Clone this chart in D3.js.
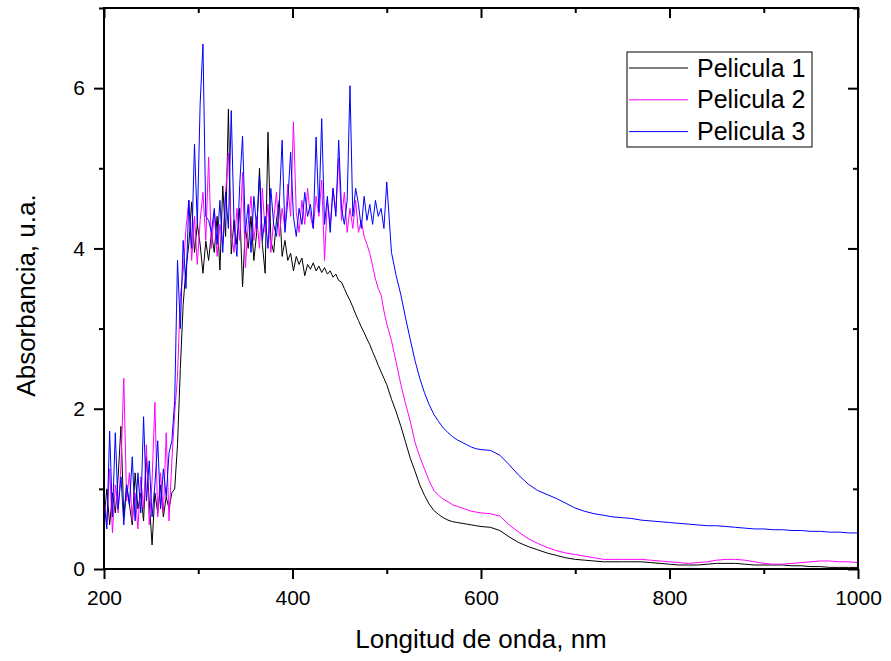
<!DOCTYPE html>
<html>
<head>
<meta charset="utf-8">
<script src="https://cdn.jsdelivr.net/npm/d3@7"></script>
<style>
  html, body { margin: 0; padding: 0; background: #fff; }
  svg { display: block; font-family: Arial, "Liberation Sans", sans-serif; }
</style>
</head>
<body>
<svg id="chart" width="891" height="661"></svg>
<script>
// Wavelength grid (nm): 3 nm steps up to 500, 5 nm to 600, 10 nm to 1000
const wavelengths = [
  200,203,206,209,212,215,218,221,224,227,
  230,233,236,239,242,245,248,251,254,257,
  260,263,266,269,272,275,278,281,284,287,
  290,293,296,299,302,305,308,311,314,317,
  320,323,326,329,332,335,338,341,344,347,
  350,353,356,359,362,365,368,371,374,377,
  380,383,386,389,392,395,398,401,404,407,
  410,413,416,419,422,425,428,431,434,437,
  440,443,446,449,452,455,458,461,464,467,
  470,473,476,479,482,485,488,491,494,497,
  500,
  505,510,515,520,525,530,535,540,545,550,
  555,560,565,570,575,580,585,590,595,600,
  610,620,630,640,650,660,670,680,690,700,
  710,720,730,740,750,760,770,780,790,800,
  810,820,830,840,850,860,870,880,890,900,
  910,920,930,940,950,960,970,980,990,1000
];

// Absorbance, Pelicula 1
const pelicula1 = [
  0.60,1.00,0.55,0.95,0.70,1.15,1.78,0.65,1.05,0.80,
  0.55,1.20,0.75,0.95,0.60,1.40,0.85,0.30,0.95,0.70,
  1.05,0.65,0.90,0.75,0.95,1.00,1.55,2.50,3.30,3.75,
  4.05,4.58,3.95,4.30,4.05,3.69,4.09,3.85,4.20,3.95,
  4.40,3.73,4.78,4.15,5.74,3.93,4.35,4.05,4.50,3.52,
  4.26,4.00,4.40,3.85,4.20,5.00,4.05,3.69,5.45,4.10,
  3.95,4.35,4.60,3.90,4.10,3.85,3.94,3.72,3.90,3.80,
  3.88,3.66,3.80,3.74,3.82,3.72,3.78,3.70,3.76,3.68,
  3.72,3.64,3.68,3.60,3.58,3.50,3.42,3.35,3.27,3.18,
  3.10,3.02,2.95,2.87,2.80,2.71,2.63,2.54,2.46,2.38,
  2.30,
  2.12,1.96,1.78,1.58,1.38,1.22,1.05,0.92,0.81,0.73,
  0.68,0.64,0.61,0.59,0.58,0.57,0.56,0.55,0.54,0.53,
  0.52,0.48,0.40,0.33,0.28,0.24,0.20,0.17,0.14,0.12,
  0.11,0.10,0.09,0.09,0.09,0.09,0.09,0.08,0.07,0.06,
  0.05,0.05,0.05,0.06,0.07,0.07,0.07,0.06,0.05,0.05,
  0.05,0.05,0.04,0.04,0.03,0.03,0.02,0.02,0.02,0.02
];

// Absorbance, Pelicula 2
const pelicula2 = [
  0.90,0.55,1.25,0.45,1.05,0.70,1.30,2.38,0.85,1.20,
  0.60,0.95,0.50,1.15,0.75,1.55,0.55,1.10,2.08,0.65,
  1.20,0.70,1.70,0.60,1.35,1.95,2.40,3.40,3.70,4.25,
  4.60,3.85,4.40,3.80,4.35,4.70,4.10,5.14,4.00,4.45,
  3.90,4.30,4.05,4.70,5.19,4.20,3.95,4.50,4.10,4.95,
  3.76,4.30,4.65,4.10,4.40,4.00,4.75,4.20,4.55,3.95,
  4.35,4.70,4.15,4.50,4.25,4.80,4.40,5.58,4.45,4.20,
  4.60,4.30,4.75,4.40,4.25,4.65,4.40,4.85,3.85,4.60,
  4.30,4.75,4.45,5.12,4.35,4.70,4.20,4.50,4.25,4.60,
  4.20,4.35,4.15,4.05,3.94,3.78,3.62,3.50,3.42,3.22,
  3.06,
  2.85,2.58,2.30,2.06,1.84,1.58,1.40,1.25,1.10,0.98,
  0.92,0.87,0.84,0.80,0.78,0.76,0.74,0.72,0.71,0.70,
  0.69,0.66,0.55,0.46,0.38,0.32,0.27,0.23,0.20,0.18,
  0.16,0.14,0.12,0.12,0.12,0.12,0.12,0.11,0.10,0.09,
  0.08,0.07,0.08,0.09,0.11,0.12,0.12,0.11,0.09,0.07,
  0.06,0.06,0.07,0.08,0.09,0.10,0.10,0.09,0.09,0.08
];

// Absorbance, Pelicula 3
const pelicula3 = [
  0.85,0.50,1.72,0.65,1.70,0.75,1.15,0.55,1.05,0.80,
  1.40,0.60,1.20,0.70,1.90,0.85,1.35,0.65,1.05,1.60,
  0.75,1.25,0.90,1.45,1.60,2.10,3.85,3.00,4.10,3.50,
  4.60,4.00,5.30,4.30,5.80,6.55,4.40,4.35,4.20,4.50,
  4.05,4.60,3.95,4.70,4.25,5.72,4.30,3.90,4.80,5.40,
  4.20,4.55,3.95,4.65,4.25,4.90,4.10,4.40,4.00,4.75,
  4.30,4.15,4.55,5.35,4.20,4.60,5.20,4.40,4.15,4.50,
  4.30,4.70,4.40,4.55,4.25,5.39,4.45,5.62,4.30,4.65,
  4.20,4.75,4.40,5.35,4.50,4.30,4.60,6.03,4.40,4.75,
  4.55,4.25,4.65,4.35,4.55,4.30,4.60,4.40,4.50,4.25,
  4.83,
  3.95,3.66,3.42,3.13,2.86,2.60,2.38,2.20,2.05,1.93,
  1.84,1.76,1.70,1.65,1.61,1.58,1.55,1.52,1.50,1.49,
  1.48,1.42,1.30,1.17,1.06,0.98,0.93,0.88,0.82,0.76,
  0.72,0.69,0.67,0.65,0.64,0.63,0.61,0.60,0.59,0.58,
  0.57,0.56,0.55,0.54,0.54,0.53,0.52,0.51,0.50,0.50,
  0.49,0.49,0.48,0.48,0.47,0.47,0.46,0.46,0.45,0.45
];

const seriesNames = ["Pelicula 1", "Pelicula 2", "Pelicula 3"];
const seriesColors = ["#000000", "#ff00ff", "#0000ff"];
const xMajorTicks = [200, 400, 600, 800, 1000];
const xMinorTicks = [300, 500, 700, 900];
const yMajorTicks = [0, 2, 4, 6];
const yMinorTicks = [1, 3, 5, 7];
const xTitle = "Longitud de onda, nm";
const yTitle = "Absorbancia, u.a.";

const series = [pelicula1, pelicula2, pelicula3].map((vals, i) => ({
  name: seriesNames[i],
  color: seriesColors[i],
  points: wavelengths.map((w, j) => [w, vals[j]])
}));

const svg = d3.select("#chart");
const margin = { left: 104, right: 891 - 858, top: 8, bottom: 661 - 569 };
const W = 891 - margin.left - margin.right;
const H = 661 - margin.top - margin.bottom;

const x = d3.scaleLinear().domain([200, 1000]).range([0, W]);
const y = d3.scaleLinear().domain([0, 7]).range([H, 0]);

const g = svg.append("g").attr("transform", `translate(${margin.left},${margin.top})`);

svg.append("defs").append("clipPath").attr("id", "plotClip")
  .append("rect").attr("x", 0).attr("y", 0).attr("width", W).attr("height", H);

// Spectra, drawn in legend order so Pelicula 3 sits on top
const line = d3.line().x(d => x(d[0])).y(d => y(d[1]));
g.append("g").attr("clip-path", "url(#plotClip)")
  .selectAll("path").data(series).join("path")
  .attr("d", d => line(d.points))
  .attr("fill", "none")
  .attr("stroke", d => d.color)
  .attr("stroke-width", 1)
  .attr("stroke-linejoin", "round");

// Axes: labelled outward ticks on bottom/left, inward ticks on top/right
function styleAxis(sel) {
  sel.select(".domain").remove();
  sel.selectAll("line").attr("stroke", "#000").attr("stroke-width", 2);
  sel.selectAll("text").attr("fill", "#000").style("font-size", "21px");
}

g.append("g").attr("transform", `translate(0,${H})`)
  .call(d3.axisBottom(x).tickValues(xMajorTicks).tickSize(10).tickPadding(11).tickFormat(d3.format("d")))
  .call(styleAxis);
g.append("g").attr("transform", `translate(0,${H})`)
  .call(d3.axisBottom(x).tickValues(xMinorTicks).tickSize(5).tickFormat(""))
  .call(styleAxis);
g.append("g")
  .call(d3.axisTop(x).tickValues(xMajorTicks).tickSize(-10).tickFormat(""))
  .call(styleAxis);
g.append("g")
  .call(d3.axisTop(x).tickValues(xMinorTicks).tickSize(-5).tickFormat(""))
  .call(styleAxis);

g.append("g")
  .call(d3.axisLeft(y).tickValues(yMajorTicks).tickSize(10).tickPadding(9).tickFormat(d3.format("d")))
  .call(styleAxis);
g.append("g")
  .call(d3.axisLeft(y).tickValues(yMinorTicks).tickSize(5).tickFormat(""))
  .call(styleAxis);
g.append("g").attr("transform", `translate(${W},0)`)
  .call(d3.axisRight(y).tickValues(yMajorTicks).tickSize(-10).tickFormat(""))
  .call(styleAxis);
g.append("g").attr("transform", `translate(${W},0)`)
  .call(d3.axisRight(y).tickValues(yMinorTicks).tickSize(-5).tickFormat(""))
  .call(styleAxis);

// Frame
g.append("rect").attr("x", 0).attr("y", 0).attr("width", W).attr("height", H)
  .attr("fill", "none").attr("stroke", "#000").attr("stroke-width", 2);

// Axis titles
svg.append("text")
  .attr("x", margin.left + W / 2).attr("y", 648)
  .attr("text-anchor", "middle").style("font-size", "26px").attr("fill", "#000")
  .text(xTitle);
svg.append("text")
  .attr("transform", `translate(35,${margin.top + H / 2 + 7}) rotate(-90)`)
  .attr("text-anchor", "middle").style("font-size", "26px").attr("fill", "#000")
  .text(yTitle);

// Legend
const legend = svg.append("g").attr("transform", "translate(627,52)");
legend.append("rect").attr("x", 0).attr("y", 0).attr("width", 185).attr("height", 95)
  .attr("fill", "#fff").attr("stroke", "#000").attr("stroke-width", 1);
const rows = legend.selectAll("g.row").data(series).join("g")
  .attr("class", "row")
  .attr("transform", (d, i) => `translate(0,${16 + i * 31.8})`);
rows.append("line").attr("x1", 2).attr("x2", 61).attr("y1", 0).attr("y2", 0)
  .attr("stroke", d => d.color).attr("stroke-width", 1);
rows.append("text").attr("x", 70).attr("y", 8.5)
  .style("font-size", "25px").attr("fill", "#000")
  .text(d => d.name);
</script>
</body>
</html>
